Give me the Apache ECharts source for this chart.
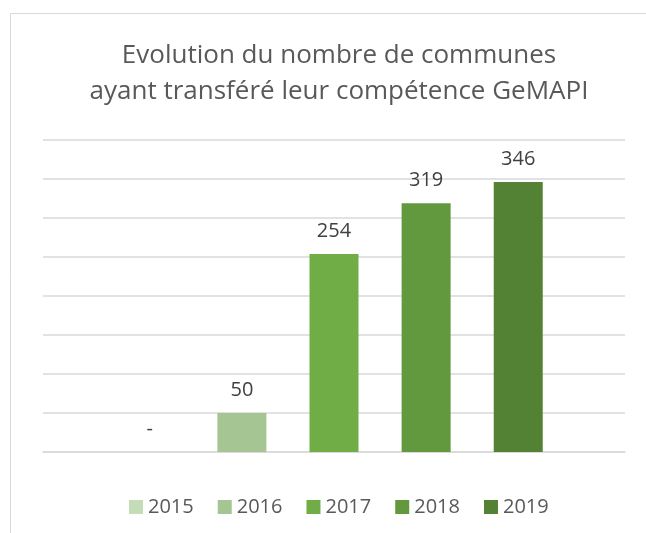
<!DOCTYPE html>
<html>
<head>
<meta charset="utf-8">
<script src="https://cdn.jsdelivr.net/npm/echarts@6/dist/echarts.min.js"></script>
<style>
  html, body { margin: 0; padding: 0; background: #fff; }
  #main { width: 646px; height: 533px; }
</style>
</head>
<body>
<div id="main"></div>
<script>
// donnees du graphique
let years = ['2015', '2016', '2017', '2018', '2019'];
let communes = [0, 50, 254, 319, 346];
let colors = ['#c5dcb9', '#a5c593', '#70ad47', '#62993e', '#548235'];

let myChart = echarts.init(document.getElementById('main'));

let series = [];
for (let i = 0; i < years.length; i++) {
    series.push({
        name: years[i],
        type: 'bar',
        data: [communes[i]],
        barWidth: 49,
        barGap: '88%',
        itemStyle: { color: colors[i] },
        label: {
            show: true,
            position: 'top',
            distance: 13,
            color: '#404040',
            fontSize: 20,
            fontFamily: 'Open Sans',
            formatter: function (p) {
                return p.value === 0 ? '-' : p.value;
            }
        }
    });
}

let option = {
    backgroundColor: '#fff',
    animation: false,
    title: {
        text: 'Evolution du nombre de communes\nayant transféré leur compétence GeMAPI',
        left: 334,
        textAlign: 'center',
        top: 33,
        textStyle: {
            color: '#595959',
            fontSize: 26,
            fontWeight: 'normal',
            fontFamily: 'Open Sans',
            lineHeight: 36
        }
    },
    legend: {
        data: years,
        bottom: 11,
        left: 124,
        itemWidth: 14,
        itemHeight: 14,
        itemGap: 24,
        icon: 'rect',
        textStyle: {
            color: '#595959',
            fontSize: 20,
            fontFamily: 'Open Sans'
        }
    },
    grid: {
        left: 43,
        right: 21,
        top: 140,
        bottom: 81,
        containLabel: false
    },
    xAxis: {
        type: 'category',
        data: [''],
        axisLine: { lineStyle: { color: '#d9d9d9', width: 1.5 } },
        axisTick: { show: false },
        axisLabel: { show: false }
    },
    yAxis: {
        type: 'value',
        min: 0,
        max: 400,
        interval: 50,
        axisLine: { show: false },
        axisTick: { show: false },
        axisLabel: { show: false },
        splitLine: { lineStyle: { color: '#d9d9d9', width: 1.5 } }
    },
    graphic: [{
        type: 'rect',
        shape: { x: 10.5, y: 13.5, width: 700, height: 600 },
        style: { fill: 'none', stroke: '#d9d9d9', lineWidth: 1 }
    }],
    series: series
};
myChart.setOption(option);
</script>
</body>
</html>
